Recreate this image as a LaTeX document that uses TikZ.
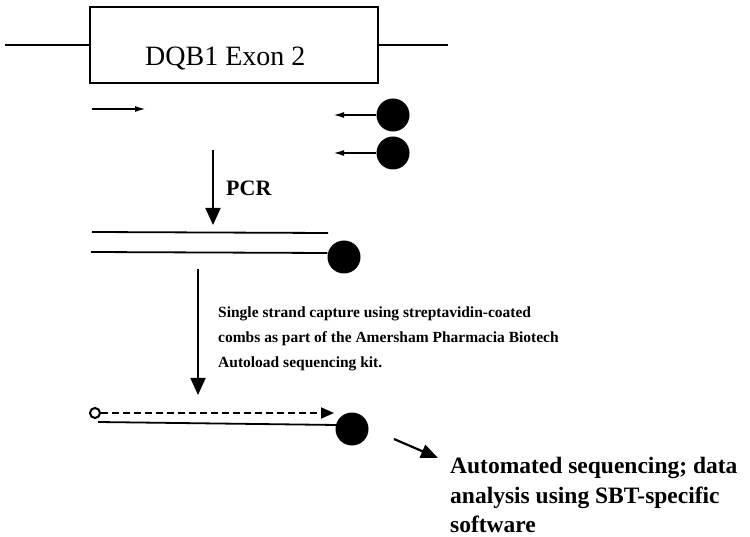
\documentclass[tikz,border=0pt]{standalone}
\usepackage{fontspec}
\setmainfont{Liberation Serif}
\usetikzlibrary{arrows.meta}

\tikzset{
  strand/.style={line width=1.8pt},
  bead/.style={circle, fill=black, draw=none, inner sep=0pt, minimum size=33pt},
  primer/.style={line width=1.8pt, -{Latex[length=11pt,width=6pt]}},
  bigarrow/.style={line width=1.8pt, -{Triangle[length=17pt,width=15pt]}},
  label/.style={inner sep=0pt, anchor=base west},
  smalltext/.style={label, font=\fontsize{15.5}{20}\selectfont\bfseries},
  bigtext/.style={label, font=\fontsize{23.5}{30}\selectfont\bfseries}
}

\begin{document}
\begin{tikzpicture}[x=1pt, y=-1pt]
\useasboundingbox (0,0) rectangle (750,537);

% gene with exon 2 box
\node[draw, strand, minimum width=288pt, minimum height=76pt, inner sep=0pt] (exon) at (234,45) {};
\node[label, font=\fontsize{28}{32}\selectfont] (exonlabel) at (145,66) {DQB1 Exon 2};
\coordinate (gleft) at (5,45);
\coordinate (gright) at (448,45);
\draw[strand] (gleft) -- (exon.west);
\draw[strand] (exon.east) -- (gright);

% primers
\coordinate (fps) at (92,109);
\coordinate (fpe) at (146,109);
\draw[primer] (fps) -- (fpe);

\node[bead] (rb1) at (393,115) {};
\node[bead] (rb2) at (393,153) {};
\coordinate (rp1) at (333,115);
\coordinate (rp2) at (333,153);
\draw[primer] (rb1.west) -- (rp1);
\draw[primer] (rb2.west) -- (rp2);

% PCR step
\coordinate (pcrtop) at (213,150);
\coordinate (pcrtip) at (213,225);
\draw[bigarrow] (pcrtop) -- (pcrtip);
\node[label, font=\fontsize{22}{26}\selectfont\bfseries] (pcr) at (226,196) {PCR};

% double-stranded product
\coordinate (ds1a) at (92,232);
\coordinate (ds1b) at (328,233);
\coordinate (ds2a) at (91,252);
\node[bead] (pb) at (344,257) {};
\draw[strand] (ds1a) -- (ds1b);
\draw[strand] (ds2a) -- (pb.west |- 0,253);

% single strand capture step
\coordinate (captop) at (198,269);
\coordinate (captip) at (198,395);
\draw[bigarrow] (captop) -- (captip);
\node[smalltext] (cap1) at (218,318) {Single strand capture using streptavidin-coated};
\node[smalltext] (cap2) at (218,343) {combs as part of the Amersham Pharmacia Biotech};
\node[smalltext] (cap3) at (218,368) {Autoload sequencing kit.};

% sequencing reaction on the captured strand
\node[circle, draw, line width=2pt, inner sep=0pt, minimum size=10pt] (primo) at (95,413) {};
\coordinate (dashend) at (334,413);
\draw[line width=1.8pt, dash pattern=on 7pt off 4pt, -{Triangle[length=13pt,width=11pt]}] (primo.east) -- (dashend);
\node[bead] (sb) at (352,429) {};
\coordinate (ssa) at (98,422);
\coordinate (ssb) at (337,425);
\draw[strand] (ssa) -- (ssb);

% to automated sequencing
\coordinate (aqs) at (394,439);
\coordinate (aqe) at (438,458);
\draw[line width=2.2pt, -{Triangle[length=17pt,width=14pt]}] (aqs) -- (aqe);
\node[bigtext] (seq1) at (450,473) {Automated sequencing; data};
\node[bigtext] (seq2) at (450,503) {analysis using SBT-specific};
\node[bigtext] (seq3) at (450,532) {software};
\end{tikzpicture}
\end{document}
